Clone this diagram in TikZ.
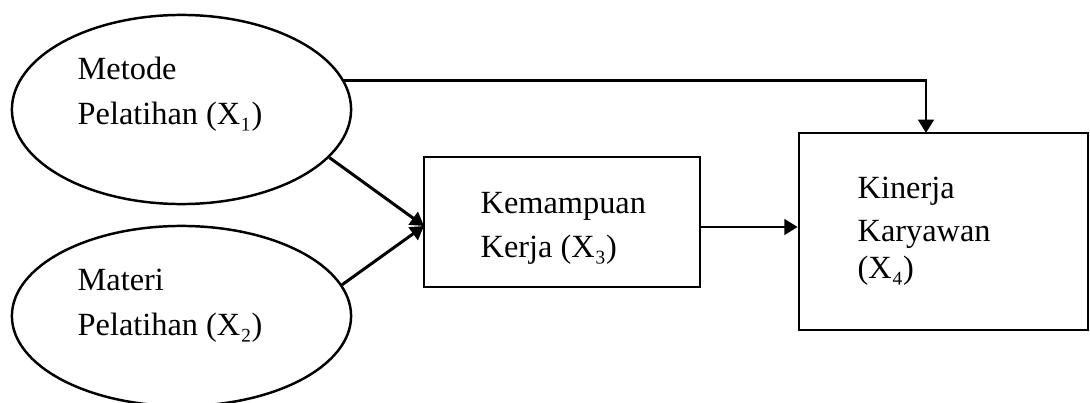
\documentclass[tikz,border=0pt]{standalone}
\usepackage{fontspec}
\setmainfont{Liberation Serif}
\usetikzlibrary{arrows.meta,shapes.geometric}
\begin{document}
\begin{tikzpicture}[x=0.01cm,y=-0.01cm,
  oval/.style={draw,ellipse,line width=0.7pt,inner sep=0pt},
  boxnode/.style={draw,rectangle,line width=0.7pt,inner sep=0pt},
  lbl/.style={anchor=base west,inner sep=0pt,font=\fontsize{9.2}{12}\selectfont},
  arr/.style={line width=0.85pt,-{Triangle[length=3.8pt,width=4.4pt]}}]
\useasboundingbox (0,0) rectangle (1090,403);
\node[oval,minimum width=3.39cm,minimum height=1.89cm] (e1) at (181.5,109.5) {};
\node[oval,minimum width=3.39cm,minimum height=1.80cm] (e2) at (181.5,316) {};
\node[boxnode,minimum width=2.76cm,minimum height=1.30cm] (k3) at (562,222) {};
\node[boxnode,minimum width=2.89cm,minimum height=1.97cm] (k4) at (943.5,231.5) {};
\node[lbl] (t1a) at (77,80) {Metode};
\node[lbl] (t1b) at (77,124) {Pelatihan (X₁)};
\node[lbl] (t2a) at (77,291) {Materi};
\node[lbl] (t2b) at (77,335) {Pelatihan (X₂)};
\node[lbl] (t3a) at (480,213) {Kemampuan};
\node[lbl] (t3b) at (480,257) {Kerja (X₃)};
\node[lbl] (t4a) at (857,198) {Kinerja};
\node[lbl] (t4b) at (857,241) {Karyawan};
\node[lbl] (t4c) at (857,278) {(X₄)};
\coordinate (k4in) at (926,133);
\coordinate (k3in) at (424,226);
\draw[arr] (e1.10) -| (k4in);
\draw[arr] (e1.-18) -- (k3in);
\draw[arr] (e2.11) -- (k3in);
\draw[arr] (k3.east |- 0,227) -- (k4.west |- 0,227);
\end{tikzpicture}
\end{document}
